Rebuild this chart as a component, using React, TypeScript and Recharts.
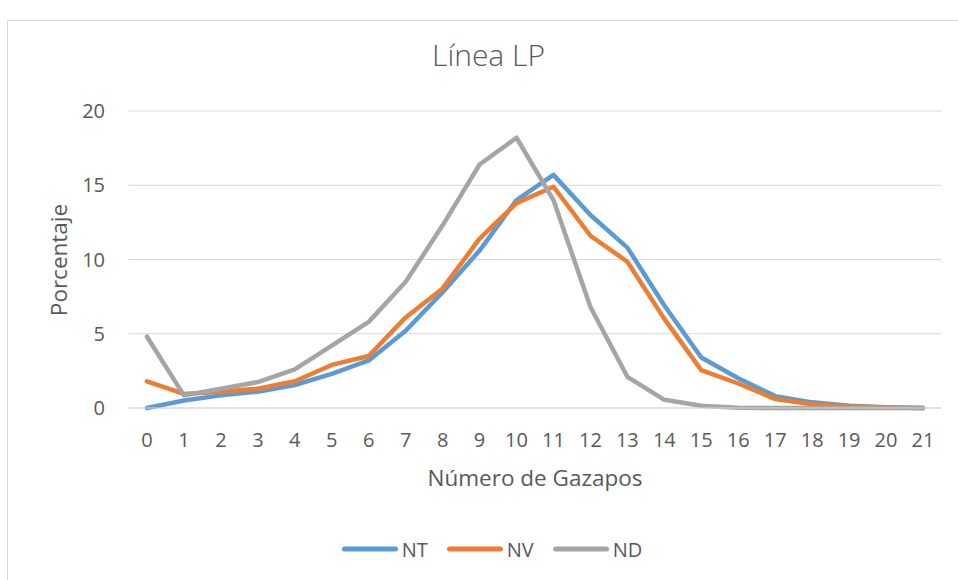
import React from 'react';
import { LineChart, Line, XAxis, YAxis, CartesianGrid, Legend } from 'recharts';

const categories = ['0', '1', '2', '3', '4', '5', '6', '7', '8', '9', '10', '11', '12', '13', '14', '15', '16', '17', '18', '19', '20', '21'];
const ntValues = [0, 0.5, 0.85, 1.1, 1.55, 2.3, 3.2, 5.2, 7.8, 10.6, 14.0, 15.7, 13.0, 10.8, 6.9, 3.4, 2.0, 0.8, 0.38, 0.15, 0.05, 0];
const nvValues = [1.8, 0.95, 1.1, 1.3, 1.8, 2.9, 3.5, 6.1, 8.05, 11.4, 13.8, 14.9, 11.6, 9.85, 6.0, 2.55, 1.65, 0.6, 0.25, 0.1, 0.03, 0];
const ndValues = [4.8, 0.85, 1.3, 1.75, 2.6, 4.2, 5.8, 8.5, 12.3, 16.4, 18.2, 14.0, 6.8, 2.1, 0.55, 0.15, 0.02, 0, 0, 0, 0, 0];
const yTicks = [0, 5, 10, 15, 20];
const seriesNames = ['NT', 'NV', 'ND'];
const seriesColors = ['#5B9BD5', '#ED7D31', '#A5A5A5'];
const chartTitle = 'Línea LP';
const xTitle = 'Número de Gazapos';
const yTitle = 'Porcentaje';

const data = categories.map((c, i) => ({ cat: c, NT: ntValues[i], NV: nvValues[i], ND: ndValues[i] }));

const FONT = '"Open Sans", Lato, sans-serif';
const TEXT = '#595959';
const GRID = '#d9d9d9';
const TICK_SIZE = 20;
const AXIS_TITLE_SIZE = 22.5;

function LegendContent() {
  return (
    <div
      style={{
        display: 'flex',
        justifyContent: 'center',
        alignItems: 'center',
        height: 40,
        width: 958,
        boxSizing: 'border-box',
        paddingLeft: 26,
        fontFamily: FONT,
        fontSize: TICK_SIZE,
        color: TEXT,
      }}
    >
      {seriesNames.map((n, i) => (
        <div key={n} style={{ display: 'flex', alignItems: 'center', marginRight: i < seriesNames.length - 1 ? 19 : 0 }}>
          <svg width={56} height={6} style={{ marginRight: 4, display: 'block' }}>
            <line x1={2.5} y1={3} x2={53.5} y2={3} stroke={seriesColors[i]} strokeWidth={5} strokeLinecap="round" />
          </svg>
          <span>{n}</span>
        </div>
      ))}
    </div>
  );
}

export default function App() {
  return (
    <div style={{ position: 'absolute', left: 0, top: 0, width: 958, height: 580, background: '#fff', overflow: 'hidden' }}>
      <div
        style={{
          position: 'absolute',
          left: 7,
          top: 20,
          width: 980,
          height: 600,
          border: '1px solid #d9d9d9',
          boxSizing: 'border-box',
        }}
      />
      <div
        style={{
          position: 'absolute',
          left: 0,
          top: 37.4,
          width: 977,
          textAlign: 'center',
          fontFamily: FONT,
          fontWeight: 300,
          fontSize: 30,
          lineHeight: '36px',
          color: TEXT,
        }}
      >
        {chartTitle}
      </div>
      <div style={{ position: 'absolute', left: 0, top: 0 }}>
        <LineChart width={958} height={580} data={data} margin={{ top: 111, right: 16.5, bottom: 11, left: 68.5 }}>
          <CartesianGrid vertical={false} stroke={GRID} strokeWidth={1} />
          <XAxis
            dataKey="cat"
            interval={0}
            padding={{ left: 18.5, right: 18.5 }}
            tickLine={false}
            tickSize={0}
            tickMargin={24.8}
            axisLine={{ stroke: GRID }}
            height={121}
            tick={{ fill: TEXT, fontSize: TICK_SIZE, fontFamily: FONT }}
            label={{
              content: (props: any) => {
                const vb = props.viewBox || { x: 128.5, width: 813 };
                return (
                  <text x={vb.x + vb.width / 2} y={486} textAnchor="middle" fill={TEXT} fontSize={AXIS_TITLE_SIZE} fontFamily={FONT}>
                    {xTitle}
                  </text>
                );
              },
            }}
          />
          <YAxis
            width={60}
            domain={[0, 20]}
            ticks={yTicks}
            interval={0}
            axisLine={false}
            tickLine={false}
            tickSize={0}
            tickMargin={23.5}
            tick={{ fill: TEXT, fontSize: TICK_SIZE, fontFamily: FONT }}
            label={{
              content: () => (
                <text transform="translate(66.7,260) rotate(-90)" x={0} y={0} textAnchor="middle" fill={TEXT} fontSize={AXIS_TITLE_SIZE} fontFamily={FONT}>
                  {yTitle}
                </text>
              ),
            }}
          />
          <Legend verticalAlign="bottom" content={() => <LegendContent />} wrapperStyle={{ left: 0, width: 958, height: 40 }} />
          {seriesNames.map((n, i) => (
            <Line
              key={n}
              dataKey={n}
              name={n}
              stroke={seriesColors[i]}
              strokeWidth={4.5}
              strokeLinejoin="round"
              strokeLinecap="round"
              dot={false}
              activeDot={false}
              isAnimationActive={false}
            />
          ))}
        </LineChart>
      </div>
    </div>
  );
}
